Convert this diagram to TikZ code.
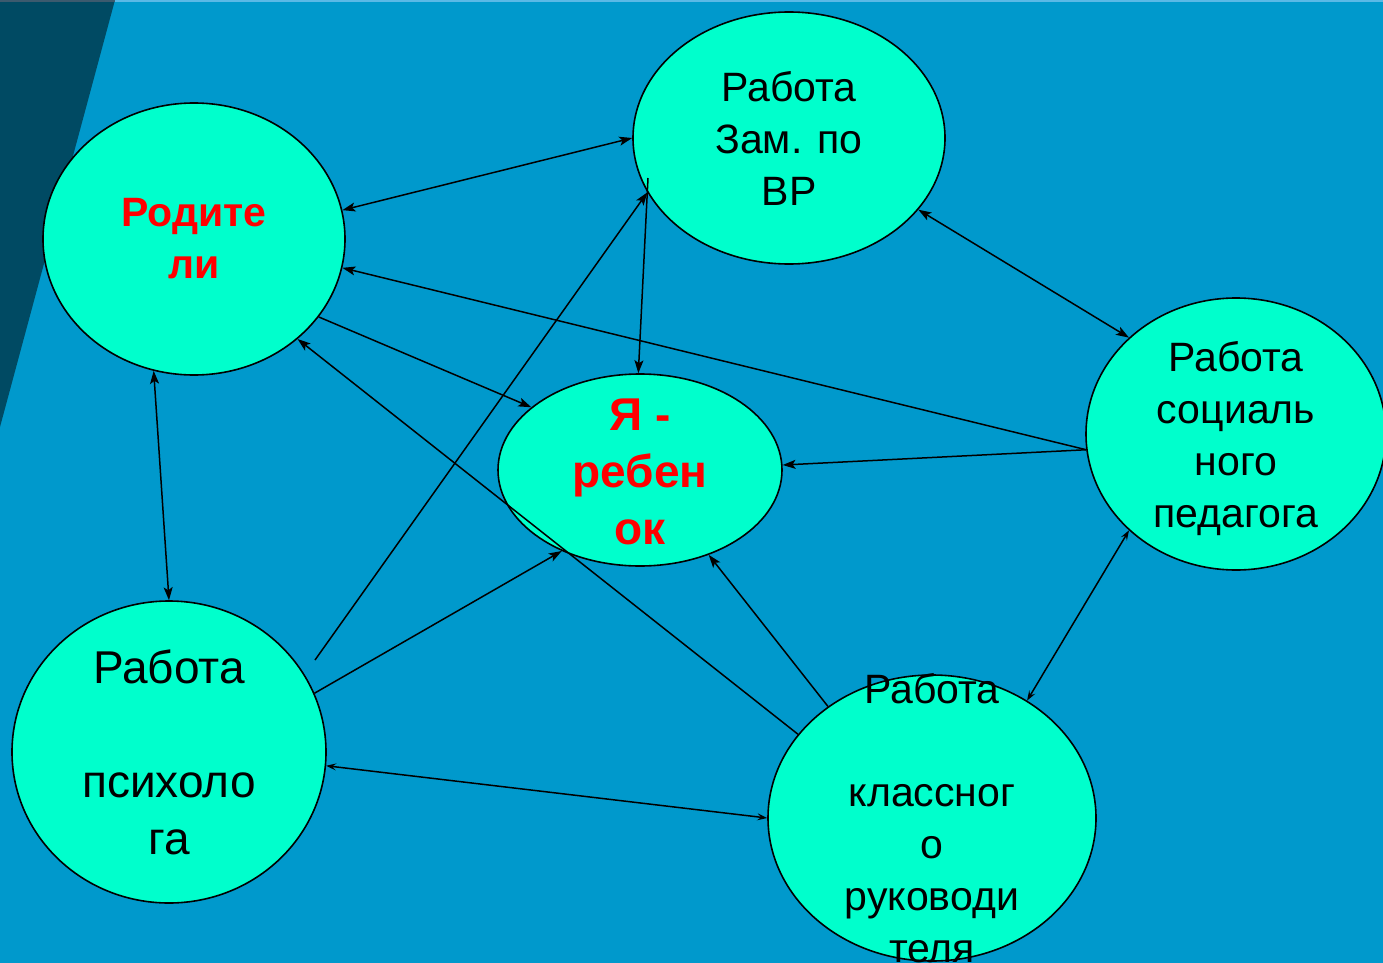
\documentclass[tikz,border=0pt]{standalone}
\usepackage{fontspec}
\setmainfont{Liberation Sans}
\usetikzlibrary{arrows.meta,shapes.geometric}
\definecolor{slideBlue}{RGB}{0,153,204}
\definecolor{slideDark}{RGB}{0,74,99}
\definecolor{bubbleFill}{RGB}{0,255,204}
\definecolor{topLight}{RGB}{90,185,230}
\definecolor{topGrey}{RGB}{60,90,110}

\tikzset{
  bubble/.style={ellipse, draw=black, line width=1.6pt, fill=bubbleFill, inner sep=0pt},
  txt/.style={align=center, font=\fontsize{41}{52}\selectfont},
  bigtxt/.style={align=center, font=\fontsize{46}{57}\selectfont},
  redtxt/.style={align=center, text=red, font=\fontsize{41}{52}\selectfont\bfseries},
  redbig/.style={align=center, text=red, font=\fontsize{46}{57}\selectfont\bfseries},
  link/.style={line width=1.5pt},
  >={Stealth[length=13pt,width=9pt,inset=3pt]},
  thintips/.style={{Stealth[length=10pt,width=7pt,inset=4pt]}-{Stealth[length=10pt,width=7pt,inset=4pt]}},
}

\begin{document}
\begin{tikzpicture}[x=1pt,y=-1pt]
    % background
    \fill[slideBlue] (0,0) rectangle (1383,963);
    \useasboundingbox (0,0) rectangle (1383,963);
    \fill[slideDark] (0,0) -- (115,0) -- (0,427) -- cycle;
    \fill[topGrey] (0,0) rectangle (115,2);
    \fill[topLight] (115,0) rectangle (1383,2);

    % bubbles
    \node[bubble, minimum width=302pt, minimum height=272pt,
          label={[redtxt]center:{Родите\\ли}}] (rod) at (194,239) {};
    \node[bubble, minimum width=312pt, minimum height=252pt,
          label={[txt]center:{Работа\\Зам. по\\ВР}}] (zam) at (789,138) {};
    \node[bubble, minimum width=284pt, minimum height=192pt,
          label={[redbig,yshift=-2pt]center:{Я -\\ребен\\ок}}] (ya) at (640,470) {};
    \node[bubble, minimum width=300pt, minimum height=272pt,
          label={[txt,yshift=-5pt]center:{Работа\\социаль\\ного\\педагога}}] (soc) at (1236,434) {};
    \node[bubble, minimum width=314pt, minimum height=302pt,
          label={[bigtxt]center:{Работа\\[57pt]психоло\\га}}] (psy) at (169,752) {};
    \node[bubble, minimum width=328pt, minimum height=286pt,
          label={[txt]center:{Работа\\[51pt]классног\\о\\руководи\\теля}}] (kl) at (932,818) {};

    % free ends
    \coordinate (zamA) at (648,178);
    \coordinate (psyA) at (315,660);

    % connectors
    \draw[link,<->] (rod.11) -- (zam.180);
    \draw[link,->] (zamA) -- (ya.91);
    \draw[link,->] (psyA) -- (zam.201);
    \draw[link,->] (rod.328) -- (ya.150);
    \draw[link,->] (soc.186) -- (rod.349);
    \draw[link,->] (soc.186) -- (ya.2);
    \draw[link,<->] (zam.331) -- (soc.138);
    \draw[link,->] (psy.22) -- (ya.226);
    \draw[link,<->] (rod.253) -- (psy.90);
    \draw[link,->] (kl.148) -- (rod.316);
    \draw[link,->] (kl.133) -- (ya.309);
    \draw[link,thintips] (psy.355) -- (kl.180);
    \draw[link,thintips] (kl.51) -- (soc.222);
\end{tikzpicture}
\end{document}
